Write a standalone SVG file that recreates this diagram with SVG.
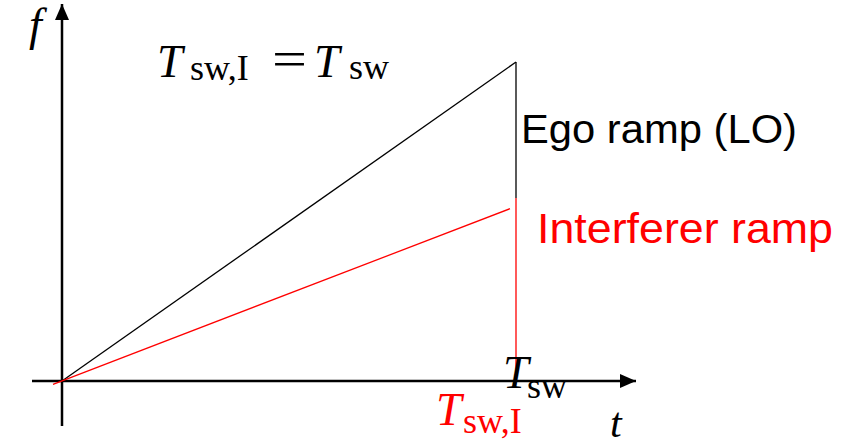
<svg xmlns="http://www.w3.org/2000/svg" width="853" height="445" viewBox="0 0 853 445">
<style>
.axis{stroke:#000;stroke-width:2.5;fill:none}
.ego{stroke:#000;stroke-width:1.3;fill:none}
.intf{stroke:#f00;stroke-width:1.3;fill:none}
.math{font-family:"Liberation Serif","DejaVu Serif",serif;font-style:italic}
.up{font-family:"Liberation Serif","DejaVu Serif",serif;font-style:normal}
.lbl{font-family:"Liberation Sans","Open Sans",sans-serif}
</style>
<defs>
<marker id="arr" viewBox="0 0 16 14" refX="16" refY="7" markerWidth="16" markerHeight="14" markerUnits="userSpaceOnUse" orient="auto">
<path d="M0,0 L16,7 L0,14 Z" fill="#000"/>
</marker>
</defs>
<rect width="853" height="445" fill="#fff"/>
<g id="connectors">
<line class="axis" x1="62" y1="426" x2="62" y2="4" marker-end="url(#arr)"/>
<line class="axis" x1="32" y1="381" x2="636" y2="381" marker-end="url(#arr)"/>
<line class="ego" x1="62" y1="381" x2="516" y2="62"/>
<line class="ego" x1="516" y1="62" x2="516" y2="198"/>
<line class="intf" x1="53" y1="384.3" x2="510" y2="208.7"/>
<line class="intf" x1="516" y1="198" x2="516" y2="372"/>
</g>
<g id="label-f"><text class="math" x="29" y="40" font-size="46">f</text></g>
<g id="label-eq">
<text class="math" x="157" y="77" font-size="46">T</text>
<text class="up" x="190" y="80" font-size="36">sw,I</text>
<text class="up" x="272" y="76" font-size="50" textLength="35" lengthAdjust="spacingAndGlyphs">=</text>
<text class="math" x="314" y="77" font-size="46">T</text>
<text class="up" x="349" y="79" font-size="36">sw</text>
</g>
<g id="label-ego"><text class="lbl" x="521" y="143" font-size="41" textLength="276" lengthAdjust="spacingAndGlyphs">Ego ramp (LO)</text></g>
<g id="label-intf"><text class="lbl" x="537" y="243" font-size="42" fill="#f00" textLength="296" lengthAdjust="spacingAndGlyphs">Interferer ramp</text></g>
<g id="label-tsw">
<text class="math" x="503" y="388" font-size="46">T</text>
<text class="up" x="527" y="398" font-size="36">sw</text>
</g>
<g id="label-tswi" fill="#f00">
<text class="math" x="436" y="425" font-size="46">T</text>
<text class="up" x="463" y="433" font-size="36">sw,I</text>
</g>
<g id="label-t"><text class="math" x="610" y="437" font-size="42">t</text></g>
</svg>
